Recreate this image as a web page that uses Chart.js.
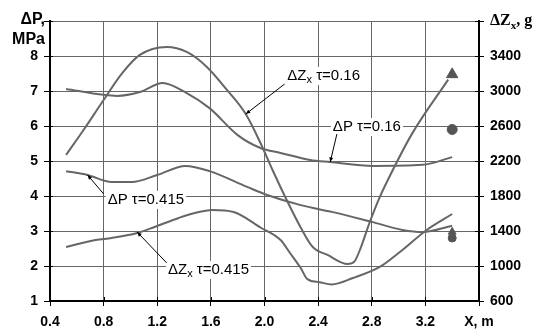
<!DOCTYPE html>
<html>
<head>
<meta charset="utf-8">
<style>
  html, body { margin: 0; padding: 0; background: #fff; }
  #wrap { width: 535px; height: 329px; }
</style>
<script src="https://cdn.jsdelivr.net/npm/chart.js@4.4.0/dist/chart.umd.min.js"></script>
</head>
<body>
<div id="wrap"><canvas id="chart" width="535" height="329"></canvas></div>
<script>
// axes
const xTicks = [0.4, 0.8, 1.2, 1.6, 2.0, 2.4, 2.8, 3.2, 3.6];
const pTicks = [1, 2, 3, 4, 5, 6, 7, 8, 9];
const zTicks = [600, 1000, 1400, 1800, 2200, 2600, 3000, 3400, 3800];

// dZx, tau = 0.16 (g, right axis)
const zx016X = [0.52, 0.65, 0.80, 0.94, 1.07, 1.27, 1.42, 1.57, 1.72, 1.86, 1.97, 2.06, 2.17, 2.27, 2.36, 2.47, 2.62, 2.67, 2.72, 2.78, 2.85, 2.92, 3.10, 3.37];
const zx016Y = [2269, 2554, 2897, 3206, 3412, 3503, 3446, 3275, 3012, 2737, 2406, 2097, 1740, 1440, 1217, 1126, 1023, 1050, 1217, 1480, 1754, 1983, 2510, 3130];

// dP, tau = 0.16 (MPa, left axis)
const p016X = [0.52, 0.80, 0.90, 1.07, 1.24, 1.42, 1.59, 1.80, 1.97, 2.12, 2.34, 2.49, 2.81, 3.18, 3.40];
const p016Y = [7.06, 6.89, 6.86, 6.97, 7.23, 6.94, 6.51, 5.74, 5.37, 5.23, 5.03, 4.97, 4.86, 4.89, 5.11];

// dP, tau = 0.415 (MPa, left axis)
const p0415X = [0.52, 0.68, 0.86, 1.01, 1.20, 1.41, 1.59, 1.87, 2.02, 2.27, 2.51, 2.80, 3.03, 3.18, 3.40];
const p0415Y = [4.71, 4.60, 4.40, 4.40, 4.60, 4.86, 4.71, 4.26, 4.03, 3.74, 3.54, 3.26, 3.03, 2.97, 3.15];

// dZx, tau = 0.415 (g, right axis)
const zx0415X = [0.52, 0.74, 0.86, 1.05, 1.18, 1.36, 1.48, 1.61, 1.77, 1.97, 2.12, 2.19, 2.27, 2.32, 2.41, 2.50, 2.66, 2.86, 3.01, 3.21, 3.40];
const zx0415Y = [1217, 1297, 1320, 1377, 1446, 1549, 1606, 1640, 1617, 1440, 1297, 1149, 977, 850, 815, 790, 863, 989, 1160, 1411, 1594];

// measured points at x = 3.4
const zxMeasured = [3190, 1390];
const pMeasured = [5.9, 2.8];
const measuredX = 3.4;

const pts = (xs, ys) => xs.map((x, i) => ({ x: x, y: ys[i] }));

const LINE = '#666666';
const MARK = '#555555';
const GRID = '#666666';

// callout labels (positions in x / left-axis units)
const notes = [
  { parts: [['ΔZ'], ['x', 1], [' τ=0.16']], x: 2.17, y: 7.43, from: [2.15, 7.2], to: [1.86, 6.34] },
  { parts: [['ΔP τ=0.16']], x: 2.51, y: 5.97, from: [2.54, 5.77], to: [2.49, 4.97] },
  { parts: [['ΔP τ=0.415']], x: 0.83, y: 3.89, from: [0.80, 4.06], to: [0.68, 4.6] },
  { parts: [['ΔZ'], ['x', 1], [' τ=0.415']], x: 1.28, y: 1.89, from: [1.27, 2.09], to: [1.05, 2.97] }
];

function richWidth(ctx, parts, size) {
  let w = 0;
  parts.forEach(p => {
    ctx.font = (p[1] ? Math.round(size * 0.7) : size) + 'px "Liberation Sans", Arial';
    w += ctx.measureText(p[0]).width;
  });
  return w;
}

function drawRich(ctx, parts, x, y, size) {
  ctx.textBaseline = 'middle';
  ctx.textAlign = 'left';
  parts.forEach(p => {
    const sub = !!p[1];
    ctx.font = (sub ? Math.round(size * 0.7) : size) + 'px "Liberation Sans", Arial';
    ctx.fillText(p[0], x, sub ? y + size * 0.3 : y);
    x += ctx.measureText(p[0]).width;
  });
}

function arrow(ctx, x1, y1, x2, y2) {
  ctx.strokeStyle = '#000';
  ctx.fillStyle = '#000';
  ctx.lineWidth = 1;
  ctx.beginPath();
  ctx.moveTo(x1, y1);
  ctx.lineTo(x2, y2);
  ctx.stroke();
  const a = Math.atan2(y2 - y1, x2 - x1), L = 5;
  ctx.beginPath();
  ctx.moveTo(x2, y2);
  ctx.lineTo(x2 - L * Math.cos(a - 0.4), y2 - L * Math.sin(a - 0.4));
  ctx.lineTo(x2 - L * Math.cos(a + 0.4), y2 - L * Math.sin(a + 0.4));
  ctx.closePath();
  ctx.fill();
}

const extras = {
  id: 'extras',
  afterDraw(chart) {
    const ctx = chart.ctx, a = chart.chartArea;
    const sx = chart.scales.x, sy = chart.scales.y, sz = chart.scales.y2;
    ctx.save();

    // inner half of the tick marks
    ctx.strokeStyle = '#000';
    ctx.lineWidth = 1;
    ctx.beginPath();
    pTicks.forEach(v => { const y = Math.round(sy.getPixelForValue(v)) + 0.5; ctx.moveTo(a.left, y); ctx.lineTo(a.left + 3, y); });
    zTicks.forEach(v => { const y = Math.round(sz.getPixelForValue(v)) + 0.5; ctx.moveTo(a.right - 4, y); ctx.lineTo(a.right, y); });
    xTicks.forEach(v => { const x = Math.round(sx.getPixelForValue(v)) + 0.5; ctx.moveTo(x, a.bottom); ctx.lineTo(x, a.bottom - 4); });
    ctx.stroke();

    // callouts
    notes.forEach(n => {
      const x = sx.getPixelForValue(n.x), y = sy.getPixelForValue(n.y);
      const w = richWidth(ctx, n.parts, 15);
      ctx.fillStyle = '#fff';
      ctx.fillRect(x - 2, y - 9, w + 4, 18);
      arrow(ctx, sx.getPixelForValue(n.from[0]), sy.getPixelForValue(n.from[1]),
                 sx.getPixelForValue(n.to[0]), sy.getPixelForValue(n.to[1]));
      ctx.fillStyle = '#000';
      drawRich(ctx, n.parts, x, y, 15);
    });

    // axis titles
    ctx.fillStyle = '#000';
    ctx.textAlign = 'right';
    ctx.textBaseline = 'middle';
    ctx.font = 'bold 16px "Liberation Sans", Arial';
    ctx.fillText('ΔP,', a.left - 5, a.top - 1);
    ctx.fillText('MPa', a.left - 5, a.top + 19);

    let tx = a.right + 11;
    ctx.textAlign = 'left';
    ctx.font = 'bold 16px "Liberation Serif", "Times New Roman", serif';
    ctx.fillText('ΔZ', tx, a.top);
    tx += ctx.measureText('ΔZ').width;
    ctx.font = 'bold 11px "Liberation Serif", "Times New Roman", serif';
    ctx.fillText('x', tx, a.top + 5);
    tx += ctx.measureText('x').width;
    ctx.font = 'bold 16px "Liberation Serif", "Times New Roman", serif';
    ctx.fillText(', g', tx, a.top);

    ctx.restore();
  }
};

const tickFont = { family: '"Liberation Sans", Arial', size: 14, weight: 'bold' };

new Chart(document.getElementById('chart'), {
  data: {
    datasets: [
      { type: 'line', data: pts(zx016X, zx016Y), yAxisID: 'y2', borderColor: LINE, borderWidth: 2, pointRadius: 0, cubicInterpolationMode: 'monotone' },
      { type: 'line', data: pts(p016X, p016Y), yAxisID: 'y', borderColor: LINE, borderWidth: 2, pointRadius: 0, cubicInterpolationMode: 'monotone' },
      { type: 'line', data: pts(p0415X, p0415Y), yAxisID: 'y', borderColor: LINE, borderWidth: 2, pointRadius: 0, cubicInterpolationMode: 'monotone' },
      { type: 'line', data: pts(zx0415X, zx0415Y), yAxisID: 'y2', borderColor: LINE, borderWidth: 2, pointRadius: 0, cubicInterpolationMode: 'monotone' },
      { type: 'scatter', data: [{ x: measuredX, y: zxMeasured[0] }], yAxisID: 'y2', pointStyle: 'triangle', pointRadius: 6.5, backgroundColor: MARK, borderColor: MARK, borderWidth: 1 },
      { type: 'scatter', data: [{ x: measuredX, y: pMeasured[0] }], yAxisID: 'y', pointStyle: 'circle', pointRadius: 5, backgroundColor: MARK, borderColor: MARK, borderWidth: 1 },
      { type: 'scatter', data: [{ x: measuredX, y: pMeasured[1] }], yAxisID: 'y', pointStyle: 'circle', pointRadius: 4, backgroundColor: MARK, borderColor: MARK, borderWidth: 1 },
      { type: 'scatter', data: [{ x: measuredX, y: zxMeasured[1] }], yAxisID: 'y2', pointStyle: 'triangle', pointRadius: 4.5, backgroundColor: MARK, borderColor: MARK, borderWidth: 1 }
    ]
  },
  options: {
    responsive: false,
    animation: false,
    devicePixelRatio: 1,
    layout: { padding: { top: 21, left: 0, right: 0, bottom: 0 } },
    plugins: { legend: { display: false }, tooltip: { enabled: false } },
    scales: {
      x: {
        type: 'linear', min: 0.4, max: 3.6,
        afterBuildTicks: s => { s.ticks = xTicks.map(v => ({ value: v })); },
        afterFit: s => { s.height = 28; },
        grid: { color: GRID, lineWidth: 1, tickColor: '#000', tickLength: 5 },
        border: { color: '#000', width: 2 },
        ticks: {
          color: '#000', font: tickFont, padding: 8, maxRotation: 0, autoSkip: false,
          callback: v => v === 3.6 ? 'X, m' : v.toFixed(1)
        }
      },
      y: {
        type: 'linear', position: 'left', min: 1, max: 9,
        afterBuildTicks: s => { s.ticks = pTicks.map(v => ({ value: v })); },
        afterFit: s => { s.width = 50; },
        grid: { color: GRID, lineWidth: 1, tickColor: '#000', tickLength: 6 },
        border: { color: '#000', width: 2 },
        ticks: { color: '#000', font: tickFont, padding: 6, callback: v => v === 9 ? '' : String(v) }
      },
      y2: {
        type: 'linear', position: 'right', min: 600, max: 3800,
        afterBuildTicks: s => { s.ticks = zTicks.map(v => ({ value: v })); },
        afterFit: s => { s.width = 56; },
        grid: { drawOnChartArea: false, tickColor: '#000', tickLength: 5 },
        border: { color: '#000', width: 2 },
        ticks: { color: '#000', font: tickFont, padding: 6, callback: v => v === 3800 ? '' : String(v) }
      }
    }
  },
  plugins: [extras]
});
</script>
</body>
</html>
